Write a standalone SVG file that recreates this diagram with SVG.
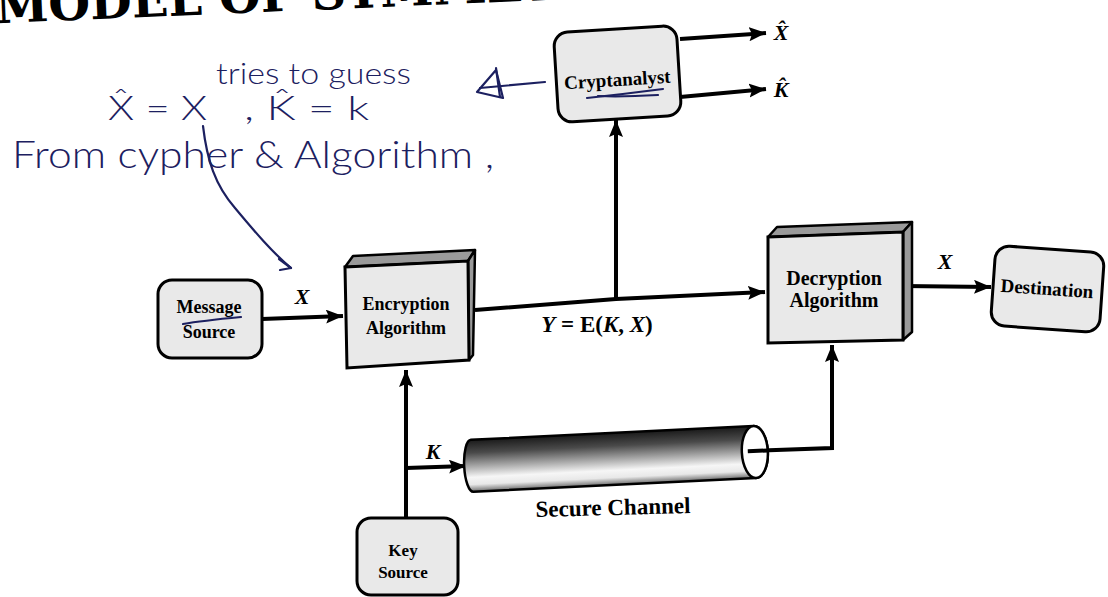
<svg xmlns="http://www.w3.org/2000/svg" width="1108" height="597" viewBox="0 0 1108 597">
  <defs>
    <marker id="ah" markerUnits="userSpaceOnUse" markerWidth="20" markerHeight="16" refX="17" refY="7" orient="auto">
      <path d="M0,0 L17,7 L0,14 L3,7 Z" fill="#000"/>
    </marker>
    <linearGradient id="pipe" x1="0" y1="0" x2="0" y2="1">
      <stop offset="0" stop-color="#1a1a1a"/>
      <stop offset="0.25" stop-color="#4a4a4a"/>
      <stop offset="0.5" stop-color="#a5a5a5"/>
      <stop offset="0.72" stop-color="#f6f6f6"/>
      <stop offset="0.86" stop-color="#e8e8e8"/>
      <stop offset="1" stop-color="#6a6a6a"/>
    </linearGradient>
  </defs>
  <style>
    .box{fill:#e9e9e9;stroke:#000;stroke-width:3}
    .side{fill:#9a9a9a;stroke:#000;stroke-width:2.5;stroke-linejoin:round}
    .lbl{font-family:"Liberation Serif",serif;font-weight:bold;font-size:18px;text-anchor:middle;fill:#000}
    .var{font-family:"Liberation Serif",serif;font-weight:bold;font-style:italic;font-size:22px;text-anchor:middle;fill:#000}
    .wire{fill:none;stroke:#000;stroke-width:4}
    .ink{font-family:Lato,"DejaVu Sans",sans-serif;font-weight:300;fill:#1c2060}
    .pen{fill:none;stroke:#1c2060;stroke-width:2.2;stroke-linecap:round;stroke-linejoin:round}
  </style>

  <rect width="1108" height="597" fill="#fff"/>

  <!-- page heading, cut by the top edge -->
  <text x="-4" y="23" font-family="DejaVu Serif" font-weight="bold" font-size="48" transform="rotate(-2.4 0 23)">MODEL OF SYMMETRIC</text>

  <!-- connectors -->
  <g id="connectors">
    <path class="wire" d="M262,319 L343,316" marker-end="url(#ah)"/>
    <path class="wire" d="M475,310 L616,299 L765,292" marker-end="url(#ah)"/>
    <path class="wire" d="M616,299 L616,120" marker-end="url(#ah)"/>
    <path class="wire" d="M680,39 L766,33" marker-end="url(#ah)"/>
    <path class="wire" d="M680,97 L766,89" marker-end="url(#ah)"/>
    <path class="wire" d="M903,286 L991,287" marker-end="url(#ah)"/>
    <path class="wire" d="M406,518 L406,370" marker-end="url(#ah)"/>
    <path class="wire" d="M406,468 L466,466" marker-end="url(#ah)"/>
    <path class="wire" d="M748,451 L832,448 L832,345" marker-end="url(#ah)"/>
  </g>

  <!-- secure channel pipe -->
  <g id="secure-channel" transform="rotate(-2.8 612 459)">
    <path d="M472,433 L755,433 A13,26 0 0 1 755,485 L472,485 A8,26 0 0 1 472,433 Z" fill="url(#pipe)" stroke="#000" stroke-width="2.5"/>
    <ellipse cx="755" cy="459" rx="13" ry="26" fill="#fff" stroke="#000" stroke-width="2.5"/>
    <path d="M748,458 L768,458" stroke="#000" stroke-width="4"/>
  </g>
  <text class="lbl" x="613" y="515" style="font-size:23px" transform="rotate(-1.5 613 508)">Secure Channel</text>

  <!-- labels on connectors -->
  <text class="var" x="302" y="304">X</text>
  <text class="var" x="945" y="269">X</text>
  <text class="var" x="433" y="459">K</text>
  <text class="var" x="781" y="40">X̂</text>
  <text class="var" x="781" y="97">K̂</text>
  <text class="lbl" x="597" y="332" style="font-size:23px"><tspan font-style="italic">Y</tspan> = E(<tspan font-style="italic">K</tspan>, <tspan font-style="italic">X</tspan>)</text>

  <!-- nodes -->
  <g id="message-source">
    <rect class="box" x="158" y="280" width="104" height="78" rx="14"/>
    <text class="lbl" x="209" y="313">Message</text>
    <text class="lbl" x="209" y="338">Source</text>
  </g>

  <g id="encryption">
    <path class="side" d="M345,267 L353,256 L475,250 L468,261 Z"/>
    <path class="side" d="M468,261 L475,250 L473,355 L469,360 Z"/>
    <path class="box" d="M345,267 L468,261 L469,360 L347,368 Z"/>
    <text class="lbl" x="406" y="310">Encryption</text>
    <text class="lbl" x="406" y="334">Algorithm</text>
  </g>

  <g id="decryption">
    <path class="side" d="M768,237 L777,227 L912,222 L903,232 Z"/>
    <path class="side" d="M903,232 L912,222 L912,332 L903,340 Z"/>
    <path class="box" d="M768,237 L903,232 L903,340 L768,343 Z"/>
    <text class="lbl" x="834" y="285" style="font-size:20px">Decryption</text>
    <text class="lbl" x="834" y="307" style="font-size:20px">Algorithm</text>
  </g>

  <g id="destination" transform="rotate(4 1047 289)">
    <rect class="box" x="993" y="249" width="109" height="80" rx="14"/>
    <text class="lbl" x="1047" y="295" style="font-size:19px">Destination</text>
  </g>

  <g id="cryptanalyst" transform="rotate(-3.5 617 74)">
    <rect class="box" x="556" y="29" width="123" height="90" rx="14"/>
    <text class="lbl" x="617" y="86" style="font-size:19px">Cryptanalyst</text>
  </g>

  <g id="key-source">
    <rect class="box" x="357" y="518" width="101" height="77" rx="14"/>
    <text class="lbl" x="403" y="556" style="font-size:17px">Key</text>
    <text class="lbl" x="403" y="578" style="font-size:17px">Source</text>
  </g>

  <!-- pen notes -->
  <g id="notes">
    <text class="ink" x="216" y="84" font-size="30" textLength="195" lengthAdjust="spacingAndGlyphs">tries to guess</text>
    <text class="ink" x="108" y="120" font-size="34" textLength="99" lengthAdjust="spacingAndGlyphs">X̂ = X</text>
    <text class="ink" x="244" y="120" font-size="34" textLength="125" lengthAdjust="spacingAndGlyphs">, K̂ = k</text>
    <text class="ink" x="12" y="168" font-size="38" textLength="482" lengthAdjust="spacingAndGlyphs">From cypher &amp; Algorithm ,</text>
    <path class="pen" d="M203,126 C207,160 215,185 235,208 C255,232 272,252 291,268"/>
    <path class="pen" d="M279,259 L291,268 L280,270"/>
    <path class="pen" d="M545,82 L480,88"/>
    <path class="pen" d="M496,70 L477,92 L503,98 Z"/>
    <path class="pen" d="M496,68 L500,97"/>
    <path class="pen" d="M587,98 C615,95 640,92 663,89"/>
    <path class="pen" d="M598,96 C620,97 640,96 658,95"/>
    <path class="pen" d="M183,324 C200,321 220,319 241,317"/>
  </g>
</svg>
